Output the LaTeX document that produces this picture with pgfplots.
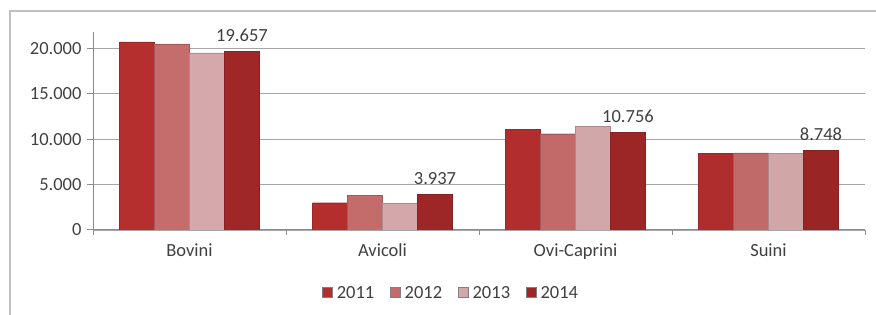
\documentclass[border=0pt]{standalone}
\usepackage{fontspec}
\setmainfont{Carlito}
\usepackage{pgfplots}
\pgfplotsset{compat=1.18}
\definecolor{cA}{HTML}{CF3535}
\definecolor{cB}{HTML}{DB7878}
\definecolor{cC}{HTML}{E8B8BA}
\definecolor{cD}{HTML}{B52C2C}
\definecolor{txt}{HTML}{404040}
\begin{document}
\begin{tikzpicture}
\path[use as bounding box] (0pt,0pt) rectangle (876pt,315pt);
\draw[black!25, line width=1.5pt] (10pt,0pt) -- (10pt,304pt) -- (876pt,304pt);
\begin{axis}[
  at={(93pt,85pt)}, anchor=south west,
  scale only axis, width=772pt, height=198pt,
  ymin=0, ymax=21800, xmin=-0.5, xmax=3.5,
  ybar=0pt, bar width=35pt,
  axis x line*=bottom, axis y line*=left,
  axis line style={black!45, line width=1pt},
  ymajorgrids, grid style={black!35, line width=1.2pt},
  ytick={0,5000,10000,15000,20000},
  scaled y ticks=false,
  xtick={0,1,2,3},
  xticklabels={Bovini,Avicoli,Ovi-Caprini,Suini},
  x tick style={draw=none},
  y tick style={black!45, line width=1pt},
  tick align=outside, major tick length=6pt,
  extra x ticks={-0.5,0.5,1.5,2.5,3.5},
  extra x tick labels={},
  extra x tick style={x tick style={draw=black!45, line width=1pt}, major tick length=5pt, grid=none},
  /pgf/number format/.cd, 1000 sep={.}, assume math mode=true,
  /pgfplots/.cd,
  tick label style={font=\fontsize{18.5}{22}\selectfont, text=txt},
  x tick label style={yshift=-4pt},
  y tick label style={xshift=-2pt},
  legend style={at={(0.464,-0.318)}, anchor=center, draw=none, fill=none,
    legend columns=-1, font=\fontsize{18.5}{22}\selectfont, text=txt,
    /tikz/every odd column/.append style={column sep=2pt},
    /tikz/every even column/.append style={column sep=14pt}},
  legend image code/.code={\draw[#1, draw=black!50] (0pt,-4.5pt) rectangle (10pt,5.5pt);},
]
\addplot[draw=cA!75!black, left color=cA!88!black, middle color=cA!97!white, right color=cA!85!black, shading angle=90] coordinates {(0,20700) (1,3000) (2,11100) (3,8450)};
\addplot[draw=cB!75!black, left color=cB!90!black, middle color=cB!97!white, right color=cB!88!black, shading angle=90] coordinates {(0,20500) (1,3800) (2,10600) (3,8500)};
\addplot[draw=cC!75!black, left color=cC!92!black, middle color=cC!95!white, right color=cC!90!black, shading angle=90] coordinates {(0,19500) (1,2900) (2,11400) (3,8450)};
\addplot[draw=cD!75!black, left color=cD!88!black, middle color=cD!97!white, right color=cD!85!black, shading angle=90,
  nodes near coords, nodes near coords style={font=\fontsize{18.5}{22}\selectfont, text=txt, anchor=south, yshift=6pt}]
  coordinates {(0,19657) (1,3937) (2,10756) (3,8748)};
\legend{2011,2012,2013,2014}
\end{axis}
\end{tikzpicture}
\end{document}
